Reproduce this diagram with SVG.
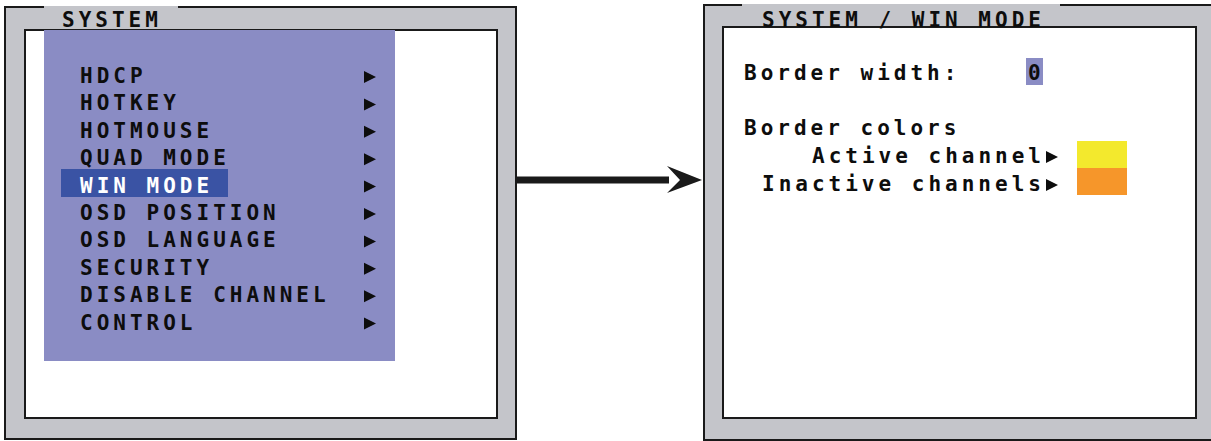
<svg xmlns="http://www.w3.org/2000/svg" width="1211" height="441" viewBox="0 0 1211 441">
<style>
.frame{fill:#c4c5ca}
.edge{fill:none;stroke:#1a1a1a;stroke-width:2}
.inner{fill:#ffffff;stroke:#1a1a1a;stroke-width:2}
.t{font-family:"DejaVu Sans Mono","Liberation Mono",monospace;font-weight:bold;font-size:21px;letter-spacing:4px;fill:#0d0d0d}
.w{fill:#ffffff}
.tri{fill:#0d0d0d}
</style>
<defs>
<polygon id="tri" points="0,-12 12,-6 0,0"/>
</defs>
<rect width="1211" height="441" fill="#ffffff"/>

<g id="panel-system">
<rect class="frame" x="4" y="6" width="513" height="434"/>
<path class="edge" d="M178,7 H516 V439 H5 V7 H44"/>
<rect class="inner" x="25" y="30" width="472" height="388"/>
<text class="t" x="62" y="27">SYSTEM</text>
<rect x="44" y="30" width="351" height="331" fill="#8a8cc4"/>
<rect x="61" y="169" width="167" height="28" fill="#3a53a4"/>
<g id="menu-items">
<text class="t" x="80" y="83">HDCP</text>
<text class="t" x="80" y="110.4">HOTKEY</text>
<text class="t" x="80" y="137.8">HOTMOUSE</text>
<text class="t" x="80" y="165.2">QUAD MODE</text>
<text class="t w" x="80" y="192.6">WIN MODE</text>
<text class="t" x="80" y="220">OSD POSITION</text>
<text class="t" x="80" y="247.4">OSD LANGUAGE</text>
<text class="t" x="80" y="274.8">SECURITY</text>
<text class="t" x="80" y="302.2">DISABLE CHANNEL</text>
<text class="t" x="80" y="329.6">CONTROL</text>
</g>
<g class="tri">
<use href="#tri" x="364" y="83"/>
<use href="#tri" x="364" y="110.4"/>
<use href="#tri" x="364" y="137.8"/>
<use href="#tri" x="364" y="165.2"/>
<use href="#tri" x="364" y="192.6"/>
<use href="#tri" x="364" y="220"/>
<use href="#tri" x="364" y="247.4"/>
<use href="#tri" x="364" y="274.8"/>
<use href="#tri" x="364" y="302.2"/>
<use href="#tri" x="364" y="329.6"/>
</g>
</g>

<g id="connectors">
<rect x="517" y="176.5" width="152" height="7" fill="#1a1a1a"/>
<polygon points="702,180 667,166 680,180 667,193" fill="#1a1a1a"/>
</g>

<g id="panel-win-mode">
<rect class="frame" x="703" y="4" width="515" height="437"/>
<path class="edge" d="M1060,5 H1215 V440 H704 V5 H742"/>
<rect class="inner" x="723" y="27" width="473" height="391"/>
<text class="t" x="762" y="27">SYSTEM / WIN MODE</text>
<text class="t" x="744" y="80">Border width:</text>
<rect x="1026" y="58" width="17" height="27" fill="#8a8cc4"/>
<text class="t" x="1028" y="80">0</text>
<text class="t" x="744" y="135">Border colors</text>
<text class="t" x="812" y="163">Active channel</text>
<use href="#tri" class="tri" x="1046" y="163"/>
<text class="t" x="762" y="191">Inactive channels</text>
<use href="#tri" class="tri" x="1046" y="191"/>
<rect x="1077" y="141" width="50" height="27" fill="#f3e92d"/>
<rect x="1077" y="168" width="50" height="27" fill="#f6962a"/>
</g>
</svg>
